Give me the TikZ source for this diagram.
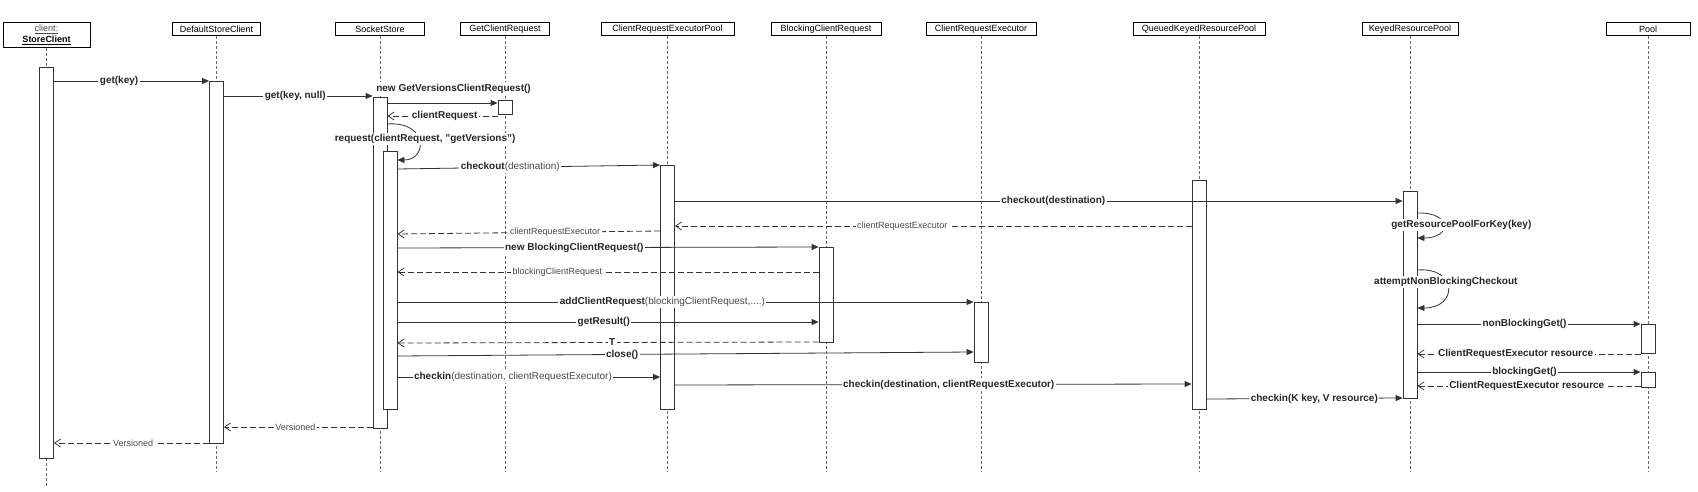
\documentclass[tikz,border=0pt]{standalone}
\usepackage{fontspec}
\setmainfont{Liberation Sans}
\usetikzlibrary{positioning,arrows.meta}

\definecolor{linegray}{HTML}{333333}
\definecolor{lifegray}{HTML}{6A6A6A}
\definecolor{textgray}{HTML}{4A4A4A}

\tikzset{
  head/.style={draw=black,fill=white,line width=0.8pt,anchor=north,minimum height=13pt,inner sep=0pt},
  act/.style={draw=linegray,fill=white,line width=0.8pt,anchor=north,minimum width=14pt,inner sep=0pt},
  life/.style={draw=lifegray,line width=0.7pt,dash pattern=on 3pt off 2pt},
  call/.style={draw=linegray,line width=0.8pt,-{Triangle[length=7pt,width=6pt]}},
  reply/.style={draw=linegray,line width=0.8pt,dash pattern=on 6pt off 3pt,-{Straight Barb[length=6pt,width=8pt]}},
  lbl/.style={fill=white,inner sep=1.5pt,font=\bfseries,text=black!85},
  rlbl/.style={fill=white,inner sep=1.5pt,text=textgray}
}

\begin{document}
\begin{tikzpicture}[x=1pt,y=-1pt,font=\fontsize{9}{10.5}\selectfont]
\useasboundingbox (0,0) rectangle (1698,492);

% objects
\node[head,minimum width=87pt,minimum height=25pt,align=center] (hC) at (46.5,22)
  {\textcolor{textgray}{\underline{client:}}\\\underline{\textbf{StoreClient}}};
\node[head,minimum width=88pt] (hD) at (216.5,22) {DefaultStoreClient};
\node[head,minimum width=89pt] (hS) at (380,22) {SocketStore};
\node[head,minimum width=89pt] (hG) at (505,22) {GetClientRequest};
\node[head,minimum width=133pt] (hP) at (667.5,22) {ClientRequestExecutorPool};
\node[head,minimum width=110pt] (hB) at (826,22) {BlockingClientRequest};
\node[head,minimum width=110pt] (hE) at (981,22) {ClientRequestExecutor};
\node[head,minimum width=132pt] (hQ) at (1199,22) {QueuedKeyedResourcePool};
\node[head,minimum width=96pt] (hK) at (1410,22) {KeyedResourcePool};
\node[head,minimum width=84pt] (hL) at (1648,22) {Pool};

% lifelines
\draw[life] (hC.south) -- (hC.south |- 0,487);
\draw[life] (hD.south) -- (hD.south |- 0,472);
\draw[life] (hS.south) -- (hS.south |- 0,472);
\draw[life] (hG.south) -- (hG.south |- 0,472);
\draw[life] (hP.south) -- (hP.south |- 0,472);
\draw[life] (hB.south) -- (hB.south |- 0,472);
\draw[life] (hE.south) -- (hE.south |- 0,472);
\draw[life] (hQ.south) -- (hQ.south |- 0,472);
\draw[life] (hK.south) -- (hK.south |- 0,472);
\draw[life] (hL.south) -- (hL.south |- 0,472);

% activations
\node[act,minimum height=391pt] (aC) at (46.5,67) {};
\node[act,minimum height=362pt] (aD) at (216.5,81) {};
\node[act,minimum height=331pt] (aS) at (380,97) {};
\node[act,minimum height=258pt] (aS2) at (390,151) {};
\node[act,minimum height=14pt] (aG) at (505,100) {};
\node[act,minimum height=244pt] (aP) at (667.5,165) {};
\node[act,minimum height=95pt] (aB) at (826,247) {};
\node[act,minimum height=60pt] (aE) at (981,302) {};
\node[act,minimum height=229pt] (aQ) at (1199,180) {};
\node[act,minimum height=207pt] (aK) at (1410,191) {};
\node[act,minimum height=29pt] (aL1) at (1648,324) {};
\node[act,minimum height=15pt] (aL2) at (1648,372) {};

% messages
\draw[call] (aC.east |- 0,81) -- (aD.west |- 0,81) node[lbl,pos=.42] {get(key)};
\draw[call] (aD.east |- 0,96) -- (aS.west |- 0,96) node[lbl,pos=.48] {get(key, null)};
\draw[call] (aS.east |- 0,103) -- (aG.west |- 0,103) node[lbl,pos=.6,above=8pt] {new GetVersionsClientRequest()};
\draw[reply] (aG.west |- 0,116) -- (aS.east |- 0,116) node[lbl,pos=.48] {clientRequest};
\draw[call] (aS.east |- 0,124) .. controls (428,121) and (428,160) .. (aS2.east |- 0,160)
  node[lbl,pos=.5,xshift=6pt,yshift=2pt] {request(clientRequest, "getVersions")};
\draw[call] (aS2.east |- 0,169) -- (aP.west |- 0,165)
  node[lbl,pos=.43] {checkout\textcolor{textgray}{\mdseries(destination)}};
\draw[call] (aP.east |- 0,201) -- (aK.west |- 0,201) node[lbl,pos=.52] {checkout(destination)};
\draw[reply] (aQ.west |- 0,226) -- (aP.east |- 0,226) node[rlbl,pos=.56] {clientRequestExecutor};
\draw[reply] (aP.west |- 0,231) -- (aS2.east |- 0,234) node[rlbl,pos=.4] {clientRequestExecutor};
\draw[call] (aS2.east |- 0,248) -- (aB.west |- 0,247) node[lbl,pos=.42] {new BlockingClientRequest()};
\draw[reply] (aB.west |- 0,272) -- (aS2.east |- 0,272) node[rlbl,pos=.62] {blockingClientRequest};
\draw[call] (aS2.east |- 0,302) -- (aE.west |- 0,302)
  node[lbl,pos=.46] {addClientRequest\textcolor{textgray}{\mdseries(blockingClientRequest,....)}};
\draw[call] (aS2.east |- 0,322) -- (aB.west |- 0,322) node[lbl,pos=.49] {getResult()};
\draw[reply] (aB.west |- 0,342) -- (aS2.east |- 0,343) node[lbl,pos=.49] {T};
\draw[call] (aS2.east |- 0,356) -- (aE.west |- 0,352) node[lbl,pos=.39] {close()};
\draw[call] (aS2.east |- 0,377) -- (aP.west |- 0,377)
  node[lbl,pos=.44] {checkin\textcolor{textgray}{\mdseries(destination, clientRequestExecutor)}};
\draw[call] (aP.east |- 0,385) -- (aQ.west |- 0,384) node[lbl,pos=.53] {checkin(destination, clientRequestExecutor)};
\draw[call] (aQ.east |- 0,399) -- (aK.west |- 0,398) node[lbl,pos=.55] {checkin(K key, V resource)};
\draw[reply] (aS.west |- 0,427) -- (aD.east |- 0,427) node[rlbl,pos=.52] {Versioned};
\draw[reply] (aD.west |- 0,443) -- (aC.east |- 0,443) node[rlbl,pos=.49] {Versioned};

% KeyedResourcePool
\draw[call] (aK.east |- 0,213) .. controls (1452,212) and (1452,238) .. (aK.east |- 0,238)
  node[lbl,pos=.5,xshift=18pt] {getResourcePoolForKey(key)};
\draw[call] (aK.east |- 0,270) .. controls (1458,267) and (1458,308) .. (aK.east |- 0,308)
  node[lbl,pos=.5,xshift=-2pt,yshift=6pt] {attemptNonBlockingCheckout};
\draw[call] (aK.east |- 0,324) -- (aL1.west |- 0,324) node[lbl,pos=.48] {nonBlockingGet()};
\draw[reply] (aL1.west |- 0,354) -- (aK.east |- 0,354) node[lbl,pos=.56] {ClientRequestExecutor resource};
\draw[call] (aK.east |- 0,372) -- (aL2.west |- 0,372) node[lbl,pos=.48] {blockingGet()};
\draw[reply] (aL2.west |- 0,386) -- (aK.east |- 0,386) node[lbl,pos=.51] {ClientRequestExecutor resource};
\end{tikzpicture}
\end{document}
